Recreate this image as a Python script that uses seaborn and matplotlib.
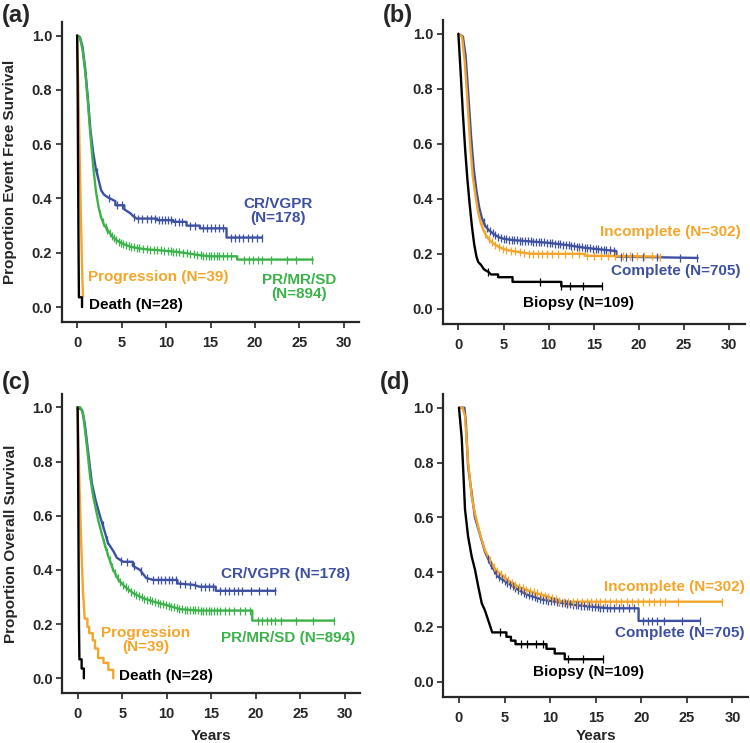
import numpy as np
import matplotlib
matplotlib.use('Agg')
import matplotlib.pyplot as plt
import seaborn as sns

# colours used in the figure
BLUE = '#3E50A2'
GREEN = '#3BB34A'
ORANGE = '#F5A52A'
BLACK = '#000000'

# ---------------- data ----------------
# (a) event free survival by response
a_cr_t = [0, 0.3, 0.6, 0.9, 1.2, 1.5, 1.8, 2.1, 2.4, 2.7, 3.0, 3.4, 4.3, 4.3, 5.3, 5.3, 6.0, 6.3, 6.7, 9.0, 9.0, 10.8, 10.8, 12.3, 12.3, 13.8, 13.8, 16.8, 16.8, 20.8]
a_cr_s = [1.0, 0.995, 0.96, 0.88, 0.77, 0.65, 0.57, 0.51, 0.47, 0.43, 0.415, 0.405, 0.39, 0.375, 0.375, 0.36, 0.345, 0.335, 0.326, 0.326, 0.32, 0.32, 0.314, 0.314, 0.30, 0.30, 0.29, 0.29, 0.256, 0.256]
a_cr_cens = [2.2, 3.6, 4.5, 5.0, 6.4, 6.9, 7.3, 7.8, 8.3, 8.7, 9.2, 9.5, 9.9, 10.2, 10.6, 11.0, 11.4, 11.8, 12.7, 13.2,
             14.2, 14.6, 15.0, 15.5, 15.9, 16.4, 17.3, 17.7, 18.2, 18.7, 19.2, 19.7, 20.2, 20.8]
a_pr_t = [0, 0.3, 0.6, 0.9, 1.2, 1.5, 1.8, 2.1, 2.4, 2.7, 3.0, 3.5, 4.0, 4.5, 5.0, 6.0, 7.0, 8.0, 9.0, 10.0, 11.0, 12.0, 13.0, 14.0, 15.0, 18.0, 18.0, 26.5]
a_pr_s = [1.0, 0.995, 0.95, 0.87, 0.76, 0.63, 0.52, 0.43, 0.37, 0.33, 0.305, 0.28, 0.258, 0.245, 0.235, 0.222, 0.216, 0.212, 0.21, 0.207, 0.204, 0.2, 0.195, 0.19, 0.187, 0.187, 0.175, 0.175]
a_pr_cens = [2.6, 2.9, 3.2, 3.4, 3.7, 3.9, 4.2, 4.4, 4.7, 4.9, 5.2, 5.5, 5.8, 6.1, 6.4, 6.7, 7.0, 7.4, 7.8, 8.2, 8.6,
             9.0, 9.4, 9.8, 10.2, 10.5, 10.8, 11.1, 11.5, 11.9, 12.3, 12.7, 13.1, 13.5, 13.9, 14.2, 14.5, 14.8, 15.1,
             15.4, 15.7, 16.0, 16.4, 16.8, 17.3, 18.8, 19.3, 19.8, 20.3, 20.8, 21.8, 23.6, 24.6, 26.4]
a_prog_t = [0, 0.1, 0.2, 0.3, 0.4, 0.5, 0.6, 0.65, 0.7]
a_prog_s = [1.0, 0.85, 0.7, 0.53, 0.37, 0.22, 0.09, 0.04, 0.04]
a_death_t = [0, 0.05, 0.1, 0.15, 0.2, 0.55, 0.55]
a_death_s = [1.0, 0.85, 0.55, 0.25, 0.036, 0.036, 0.0]

# (b) event free survival by extent of resection
b_comp_t = [0, 0.5, 0.8, 1.1, 1.4, 1.7, 2.0, 2.3, 2.6, 3.0, 3.4, 4.0, 4.5, 5.0, 6.0, 8.0, 10.0, 12.0, 14.0, 16.0, 17.5, 17.5, 26.5]
b_comp_s = [1.0, 0.99, 0.92, 0.78, 0.63, 0.51, 0.43, 0.37, 0.33, 0.30, 0.285, 0.27, 0.26, 0.255, 0.25, 0.245, 0.24, 0.232, 0.222, 0.215, 0.21, 0.19, 0.185]
b_comp_cens = [2.8, 3.2, 3.5, 3.8, 4.1, 4.4, 4.7, 5.0, 5.3, 5.6, 5.9, 6.2, 6.5, 6.8, 7.1, 7.4, 7.7, 8.0, 8.3, 8.6, 8.9,
               9.2, 9.5, 9.8, 10.1, 10.4, 10.7, 11.0, 11.3, 11.6, 11.9, 12.2, 12.5, 12.8, 13.1, 13.4, 13.7, 14.0, 14.3,
               14.6, 14.9, 15.2, 15.5, 15.8, 16.1, 16.4, 16.8, 17.2, 18.0, 18.6, 19.2, 20.5, 22.0, 24.5, 26.4]
b_inc_t = [0, 0.4, 0.7, 1.0, 1.3, 1.6, 1.9, 2.2, 2.5, 2.8, 3.2, 3.6, 4.0, 4.5, 5.0, 6.0, 7.0, 8.0, 10.0, 14.0, 14.0, 22.3]
b_inc_s = [1.0, 0.99, 0.9, 0.76, 0.60, 0.48, 0.41, 0.35, 0.31, 0.285, 0.26, 0.245, 0.235, 0.225, 0.217, 0.21, 0.205, 0.20, 0.20, 0.20, 0.193, 0.19]
b_inc_cens = [2.6, 3.0, 3.4, 3.7, 4.1, 4.5, 4.9, 5.3, 5.8, 6.3, 6.8, 7.3, 7.8, 8.3, 8.8, 9.3, 9.8, 10.4, 11.0, 11.8,
              12.6, 13.4, 14.2, 15.0, 15.8, 16.6, 17.4, 18.2, 19.0, 19.8, 20.6, 21.4, 22.3]
b_bio_t = [0, 0.25, 0.5, 0.75, 1.0, 1.25, 1.5, 1.75, 2.0, 2.2, 2.5, 2.8, 3.0, 3.3, 3.6, 4.4, 4.4, 6.0, 6.0, 11.4, 11.4, 15.9]
b_bio_s = [1.0, 0.86, 0.71, 0.58, 0.47, 0.38, 0.30, 0.235, 0.19, 0.17, 0.16, 0.145, 0.14, 0.135, 0.125, 0.125, 0.115, 0.115, 0.098, 0.098, 0.082, 0.082]
b_bio_cens = [3.3, 9.0, 11.4, 12.4, 13.8, 15.9]

# (c) overall survival by response
c_cr_t = [0, 0.5, 0.8, 1.2, 1.6, 2.0, 2.5, 3.1, 3.4, 4.0, 4.4, 5.1, 6.2, 6.2, 7.0, 7.7, 8.5, 11.2, 11.2, 13.0, 13.7, 15.5, 15.5, 22.2]
c_cr_s = [1.0, 0.99, 0.94, 0.83, 0.72, 0.66, 0.60, 0.535, 0.50, 0.47, 0.445, 0.43, 0.43, 0.415, 0.40, 0.37, 0.363, 0.363, 0.35, 0.345, 0.338, 0.338, 0.323, 0.323]
c_cr_cens = [2.8, 3.3, 4.9, 5.5, 6.3, 7.1, 7.8, 8.5, 9.0, 9.4, 9.8, 10.2, 10.6, 11.0, 11.5, 12.0, 12.6, 13.2, 13.8,
             14.3, 14.8, 15.2, 16.0, 16.5, 17.0, 17.5, 18.0, 18.5, 19.5, 20.4, 21.3, 22.2]
c_pr_t = [0, 0.3, 0.6, 1.0, 1.4, 1.75, 2.3, 2.9, 3.45, 4.0, 4.6, 5.3, 6.25, 7.4, 8.5, 10.0, 11.5, 13.7, 19.6, 19.6, 28.8]
c_pr_s = [1.0, 1.0, 0.98, 0.87, 0.745, 0.67, 0.585, 0.51, 0.45, 0.40, 0.363, 0.338, 0.314, 0.295, 0.283, 0.27, 0.255, 0.25, 0.25, 0.213, 0.213]
c_pr_cens = [3.0, 3.3, 3.6, 3.9, 4.2, 4.5, 4.8, 5.1, 5.4, 5.7, 6.0, 6.3, 6.6, 6.9, 7.2, 7.5, 7.8, 8.1, 8.4, 8.7,
             9.0, 9.3, 9.6, 9.9, 10.2, 10.5, 10.8, 11.1, 11.4, 11.7, 12.0, 12.3, 12.6, 12.9, 13.2, 13.5, 13.8, 14.1,
             14.4, 14.7, 15.0, 15.3, 15.6, 16.0, 16.5, 17.0, 17.6, 18.2, 18.8, 19.3, 20.2, 20.7, 21.2, 21.7, 22.2,
             22.8, 24.5, 26.4, 28.8]
c_prog_t = [0, 0.2, 0.4, 0.6, 0.8, 1.1, 1.1, 1.3, 1.3, 1.7, 1.7, 1.95, 1.95, 2.3, 2.3, 2.9, 2.9, 3.45, 3.45, 4.0, 4.0]
c_prog_s = [1.0, 0.72, 0.50, 0.32, 0.22, 0.22, 0.19, 0.19, 0.167, 0.167, 0.14, 0.14, 0.11, 0.11, 0.075, 0.075, 0.057, 0.057, 0.031, 0.031, 0.0]
c_death_t = [0, 0.05, 0.1, 0.15, 0.2, 0.45, 0.45, 0.7, 0.7]
c_death_s = [1.0, 0.8, 0.5, 0.2, 0.07, 0.07, 0.036, 0.036, 0.0]

# (d) overall survival by extent of resection
d_comp_t = [0, 0.6, 0.75, 1.0, 1.75, 2.85, 3.6, 4.3, 5.4, 6.5, 7.6, 9.1, 10.9, 12.7, 14.5, 16.4, 19.7, 19.7, 26.4]
d_comp_s = [1.0, 1.0, 0.95, 0.785, 0.60, 0.474, 0.42, 0.383, 0.359, 0.335, 0.316, 0.30, 0.29, 0.28, 0.274, 0.268, 0.268, 0.222, 0.222]
d_comp_cens = [3.2, 3.5, 3.8, 4.1, 4.4, 4.7, 5.0, 5.3, 5.6, 5.9, 6.2, 6.5, 6.8, 7.1, 7.4, 7.7, 8.0, 8.3, 8.6, 8.9,
               9.2, 9.5, 9.8, 10.1, 10.4, 10.7, 11.0, 11.3, 11.6, 11.9, 12.2, 12.5, 12.8, 13.1, 13.4, 13.7, 14.0,
               14.3, 14.6, 14.9, 15.2, 15.5, 15.8, 16.2, 16.6, 17.0, 17.5, 18.0, 18.6, 19.2, 20.2, 20.7, 21.2, 21.7,
               22.5, 24.5, 26.4]
d_inc_t = [0, 0.4, 0.66, 1.0, 1.4, 1.75, 2.3, 2.85, 3.4, 3.95, 4.7, 5.4, 6.5, 8.0, 9.8, 11.3, 28.8]
d_inc_s = [1.0, 1.0, 0.97, 0.80, 0.675, 0.614, 0.54, 0.48, 0.444, 0.41, 0.39, 0.37, 0.347, 0.328, 0.31, 0.292, 0.292]
d_inc_cens = [3.4, 3.8, 4.2, 4.6, 5.0, 5.4, 5.8, 6.2, 6.6, 7.0, 7.4, 7.8, 8.2, 8.6, 9.0, 9.4, 9.8, 10.2, 10.6, 11.0,
              11.5, 12.0, 12.5, 13.0, 13.5, 14.0, 14.5, 15.0, 15.5, 16.0, 16.6, 17.2, 17.8, 18.4, 19.0, 19.6, 20.2,
              20.8, 21.4, 22.0, 22.6, 24.0, 28.8]
d_bio_t = [0, 0.3, 0.47, 0.66, 1.0, 1.4, 1.75, 2.1, 2.5, 2.85, 3.2, 3.65, 5.2, 5.2, 5.7, 5.7, 6.2, 6.2, 9.6, 9.6, 10.5, 10.5, 11.6, 11.6, 15.8]
d_bio_s = [1.0, 0.89, 0.77, 0.63, 0.53, 0.456, 0.41, 0.35, 0.286, 0.26, 0.225, 0.18, 0.18, 0.164, 0.164, 0.15, 0.15, 0.137, 0.137, 0.12, 0.12, 0.103, 0.103, 0.082, 0.082]
d_bio_cens = [4.5, 6.8, 7.5, 8.4, 9.2, 12.0, 13.6, 15.8]

# ---------------- drawing ----------------
sns.set_style('ticks')
plt.rcParams['font.family'] = ['Liberation Sans', 'DejaVu Sans']
plt.rcParams['font.weight'] = 'bold'

fig = plt.figure(figsize=(7.5, 7.43), dpi=100)


def km_curve(ax, t, s, cens, color):
    sns.lineplot(x=t, y=s, ax=ax, color=color, lw=1.7, estimator=None, sort=False)
    if cens:
        cy = np.interp(cens, t, s)
        sns.scatterplot(x=cens, y=cy, ax=ax, marker='|', s=32, color=color, linewidth=0.9, zorder=3)


def style_axes(ax):
    ax.set_xlim(-1.7, 31.7)
    ax.set_ylim(-0.055, 1.05)
    ax.set_xticks([0, 5, 10, 15, 20, 25, 30])
    ax.set_yticks([0.0, 0.2, 0.4, 0.6, 0.8, 1.0])
    ax.set_yticklabels(['0.0', '0.2', '0.4', '0.6', '0.8', '1.0'])
    sns.despine(ax=ax)
    for sp in ['left', 'bottom']:
        ax.spines[sp].set_linewidth(1.6)
    ax.tick_params(direction='out', length=4, width=1.2, labelsize=10.5)
    ax.tick_params(axis='x', pad=6)
    ax.tick_params(axis='y', pad=3)
    for lab in ax.get_xticklabels() + ax.get_yticklabels():
        lab.set_fontweight('bold')
    ax.set_xlabel('')
    ax.set_ylabel('')


def lab(ax, x, y, text, color, ha='left'):
    ax.text(x, y, text, color=color, fontsize=11, fontweight='bold', ha=ha, va='center',
            clip_on=False, linespacing=1.0)


# (a)
ax_a = fig.add_axes([0.0827, 0.5666, 0.396, 0.4038])
km_curve(ax_a, a_cr_t, a_cr_s, a_cr_cens, BLUE)
km_curve(ax_a, a_pr_t, a_pr_s, a_pr_cens, GREEN)
km_curve(ax_a, a_prog_t, a_prog_s, [], ORANGE)
km_curve(ax_a, a_death_t, a_death_s, [], BLACK)
style_axes(ax_a)
ax_a.set_ylabel('Proportion Event Free Survival', fontsize=11, fontweight='bold')
ax_a.yaxis.set_label_coords(-0.15, 0.5)
lab(ax_a, 22.6, 0.355, 'CR/VGPR\n(N=178)', BLUE, 'center')
lab(ax_a, 25.0, 0.075, 'PR/MR/SD\n(N=894)', GREEN, 'center')
lab(ax_a, 1.2, 0.11, 'Progression (N=39)', ORANGE)
lab(ax_a, 1.3, 0.008, 'Death (N=28)', BLACK)

# (b)
ax_b = fig.add_axes([0.5907, 0.564, 0.4021, 0.409])
km_curve(ax_b, b_comp_t, b_comp_s, b_comp_cens, BLUE)
km_curve(ax_b, b_inc_t, b_inc_s, b_inc_cens, ORANGE)
km_curve(ax_b, b_bio_t, b_bio_s, b_bio_cens, BLACK)
style_axes(ax_b)
lab(ax_b, 31.3, 0.28, 'Incomplete (N=302)', ORANGE, 'right')
lab(ax_b, 31.3, 0.138, 'Complete (N=705)', BLUE, 'right')
lab(ax_b, 7.2, 0.02, 'Biopsy (N=109)', BLACK)

# (c)
ax_c = fig.add_axes([0.0833, 0.067, 0.3968, 0.403])
km_curve(ax_c, c_cr_t, c_cr_s, c_cr_cens, BLUE)
km_curve(ax_c, c_pr_t, c_pr_s, c_pr_cens, GREEN)
km_curve(ax_c, c_prog_t, c_prog_s, [], ORANGE)
km_curve(ax_c, c_death_t, c_death_s, [], BLACK)
style_axes(ax_c)
ax_c.set_ylabel('Proportion Overall Survival', fontsize=11, fontweight='bold')
ax_c.yaxis.set_label_coords(-0.15, 0.5)
ax_c.set_xlabel('Years', fontsize=11, fontweight='bold')
ax_c.xaxis.set_label_coords(0.5, -0.12)
lab(ax_c, 23.3, 0.384, 'CR/VGPR (N=178)', BLUE, 'center')
lab(ax_c, 23.6, 0.15, 'PR/MR/SD (N=894)', GREEN, 'center')
lab(ax_c, 7.6, 0.142, 'Progression\n(N=39)', ORANGE, 'center')
lab(ax_c, 4.6, 0.008, 'Death (N=28)', BLACK)

# (d)
ax_d = fig.add_axes([0.5913, 0.0622, 0.406, 0.4075])
km_curve(ax_d, d_comp_t, d_comp_s, d_comp_cens, BLUE)
km_curve(ax_d, d_inc_t, d_inc_s, d_inc_cens, ORANGE)
km_curve(ax_d, d_bio_t, d_bio_s, d_bio_cens, BLACK)
style_axes(ax_d)
ax_d.set_xlabel('Years', fontsize=11, fontweight='bold')
ax_d.xaxis.set_label_coords(0.5, -0.108)
lab(ax_d, 31.3, 0.344, 'Incomplete (N=302)', ORANGE, 'right')
lab(ax_d, 31.3, 0.176, 'Complete (N=705)', BLUE, 'right')
lab(ax_d, 8.1, 0.036, 'Biopsy (N=109)', BLACK)

# panel letters
for x, y, letter in [(0.003, 0.995, '(a)'), (0.51, 0.995, '(b)'), (0.003, 0.5, '(c)'), (0.507, 0.5, '(d)')]:
    fig.text(x, y, letter, fontsize=17, fontweight='bold', ha='left', va='top')

fig.savefig('out.png', dpi=100)
